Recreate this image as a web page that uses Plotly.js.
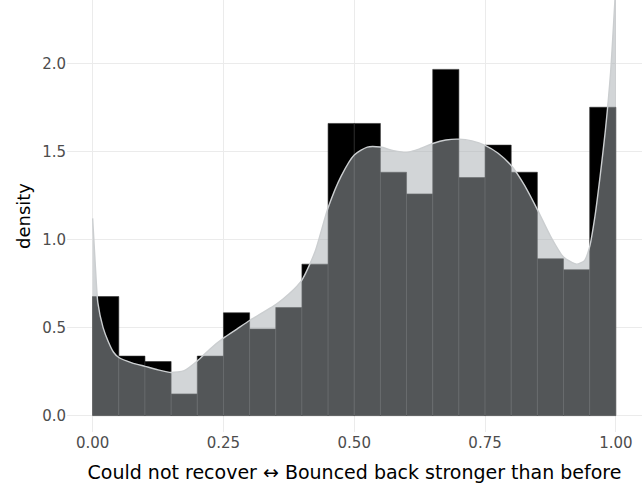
<!DOCTYPE html>
<html>
<head>
<meta charset="utf-8">
<script src="https://cdn.plot.ly/plotly-3.0.1.min.js"></script>
<style>html,body{margin:0;padding:0;background:#fff;}#chart{width:642px;height:491px;}</style>
</head>
<body>
<div id="chart"></div>
<script>
// Histogram bins (centers) and densities
var binCenters = [0.025,0.075,0.125,0.175,0.225,0.275,0.325,0.375,0.425,0.475,0.525,0.575,0.625,0.675,0.725,0.775,0.825,0.875,0.925,0.975];
var binDensity = [0.676,0.338,0.307,0.123,0.338,0.584,0.492,0.614,0.860,1.659,1.659,1.382,1.259,1.966,1.352,1.536,1.382,0.891,0.829,1.751];

// Kernel density curve
var kdeX = [0,0.005,0.01,0.02,0.03,0.04,0.05,0.075,0.10,0.125,0.15,0.175,0.20,0.225,0.25,0.275,0.30,0.325,0.35,0.375,0.40,0.425,0.45,0.475,0.50,0.525,0.55,0.575,0.60,0.625,0.65,0.675,0.70,0.725,0.75,0.775,0.80,0.825,0.85,0.875,0.90,0.925,0.94,0.95,0.96,0.97,0.98,0.99,1.0];
var kdeY = [1.12,0.86,0.64,0.50,0.42,0.36,0.33,0.30,0.28,0.26,0.245,0.255,0.31,0.38,0.44,0.49,0.54,0.585,0.63,0.69,0.77,0.93,1.18,1.36,1.48,1.525,1.525,1.505,1.495,1.515,1.545,1.565,1.57,1.56,1.535,1.49,1.42,1.31,1.17,1.02,0.90,0.86,0.88,0.96,1.13,1.36,1.62,1.95,2.45];

var xTickVals = [0,0.25,0.5,0.75,1];
var xTickText = ['0.00','0.25','0.50','0.75','1.00'];
var yTickVals = [0,0.5,1,1.5,2];
var yTickText = ['0.0','0.5','1.0','1.5','2.0'];

var bars = {
  type: 'bar', x: binCenters, y: binDensity, width: 0.05,
  marker: {color: '#000000', line: {color: 'rgb(45,45,45)', width: 0.6}},
  hoverinfo: 'x+y', showlegend: false
};
var kde = {
  type: 'scatter', mode: 'lines', x: kdeX, y: kdeY,
  fill: 'tozeroy', fillcolor: 'rgba(166,172,176,0.5)',
  line: {color: 'rgb(203,206,208)', width: 1.4, shape: 'spline', smoothing: 0.6},
  showlegend: false
};

var layout = {
  width: 642, height: 491,
  margin: {l: 67, r: 0, t: 0, b: 59},
  paper_bgcolor: '#ffffff', plot_bgcolor: '#ffffff',
  font: {family: 'DejaVu Sans, Verdana, sans-serif', size: 15, color: '#4d4d4d'},
  bargap: 0,
  xaxis: {
    range: [-0.049, 1.05], tickvals: xTickVals, ticktext: xTickText,
    showgrid: true, gridcolor: '#ebebeb', gridwidth: 1, zeroline: false, showline: false,
    ticks: '', ticklen: 0, tickfont: {size: 15, color: '#4d4d4d'},
    title: {text: 'Could not recover \u2194 Bounced back stronger than before', font: {size: 19, color: '#000000'}, standoff: 14}
  },
  yaxis: {
    range: [-0.093, 2.36], tickvals: yTickVals, ticktext: yTickText,
    showgrid: true, gridcolor: '#ebebeb', gridwidth: 1, zeroline: false, showline: false,
    ticks: '', ticklen: 0, tickfont: {size: 15, color: '#4d4d4d'},
    title: {text: 'density', font: {size: 18, color: '#000000'}, standoff: 6}
  }
};

Plotly.newPlot('chart', [bars, kde], layout, {displayModeBar: false, staticPlot: true});
</script>
</body>
</html>
